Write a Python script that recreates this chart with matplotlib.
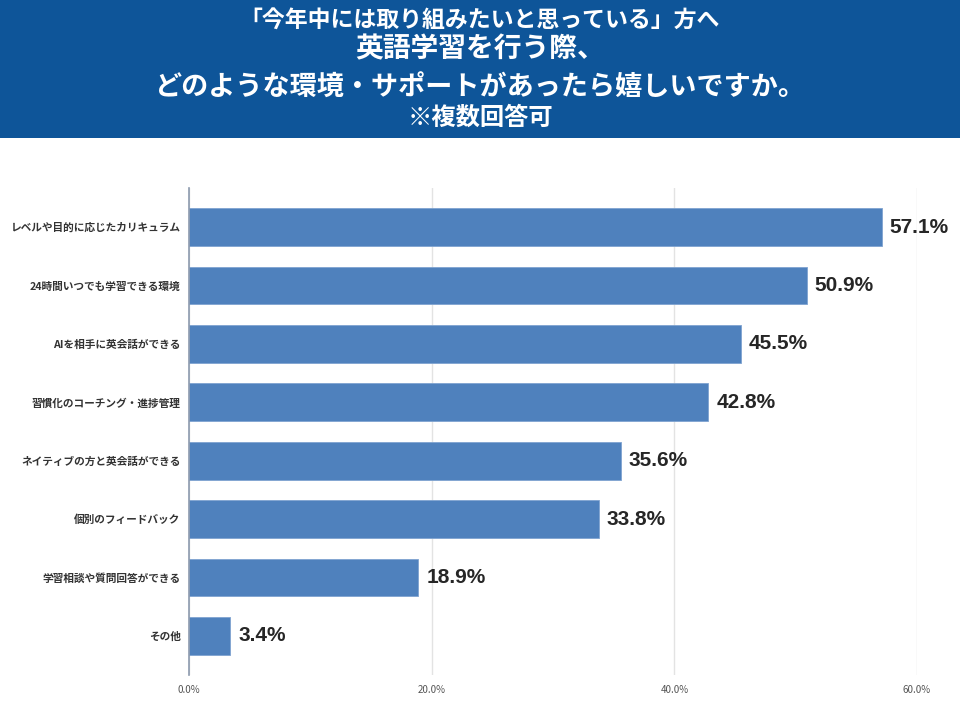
import matplotlib.pyplot as plt
from matplotlib.patches import Rectangle

plt.rcParams['font.family'] = ['Noto Sans CJK JP', 'DejaVu Sans']

categories = [
    'レベルや目的に応じたカリキュラム',
    '24時間いつでも学習できる環境',
    'AIを相手に英会話ができる',
    '習慣化のコーチング・進捗管理',
    'ネイティブの方と英会話ができる',
    '個別のフィードバック',
    '学習相談や質問回答ができる',
    'その他',
]
values = [57.1, 50.9, 45.5, 42.8, 35.6, 33.8, 18.9, 3.4]
xticks = [0, 20, 40, 60]

title_lines = [
    '「今年中には取り組みたいと思っている」方へ',
    '英語学習を行う際、',
    'どのような環境・サポートがあったら嬉しいですか。',
    '※複数回答可',
]

fig = plt.figure(figsize=(9.6, 7.2), dpi=100)

# header banner
fig.patches.append(Rectangle((0, 1 - 138 / 720), 1, 138 / 720, transform=fig.transFigure,
                             facecolor='#0e5599', edgecolor='none', zorder=0))
fig.text(0.5, 1 - 20 / 720, title_lines[0], ha='center', va='center', color='white',
         fontsize=16.5, fontweight='bold')
fig.text(0.5, 1 - 49 / 720, title_lines[1], ha='center', va='center', color='white',
         fontsize=20, fontweight='bold')
fig.text(0.5, 1 - 88 / 720, title_lines[2], ha='center', va='center', color='white',
         fontsize=19.5, fontweight='bold')
fig.text(0.5, 1 - 118 / 720, title_lines[3], ha='center', va='center', color='white',
         fontsize=17.5, fontweight='bold')

ax = fig.add_axes([189 / 960, 1 - 675 / 720, (917 - 189) / 960, (675 - 188) / 720])

y = list(range(len(categories)))
ax.barh(y, values, height=0.65, color='#4f81bd', edgecolor='#7fa3d0', linewidth=0.6, zorder=3)
for yi, v in zip(y, values):
    ax.text(v + 0.65, yi, f'{v:.1f}%', va='center', ha='left', fontsize=15,
            fontweight='bold', color='#262626', family=['Liberation Sans', 'DejaVu Sans'],
            zorder=4)

ax.set_ylim(len(categories) - 1 + 0.67, -0.67)
ax.set_yticks(y)
ax.set_yticklabels(categories, fontsize=7.7, fontweight='bold', color='#333333')
ax.set_xlim(0, 60)
ax.set_xticks(xticks)
ax.set_xticklabels([f'{t:.1f}%' for t in xticks], fontsize=7, color='#555555')
ax.tick_params(axis='both', length=0)
ax.tick_params(axis='y', pad=6)
ax.tick_params(axis='x', pad=7)
ax.grid(axis='x', color='#e3e3e3', linewidth=1, zorder=0)

for s in ['top', 'right', 'bottom']:
    ax.spines[s].set_visible(False)
ax.spines['left'].set_color('#8c9aae')
ax.spines['left'].set_linewidth(1.2)
ax.spines['left'].set_zorder(5)

fig.savefig('out.png', dpi=100)
